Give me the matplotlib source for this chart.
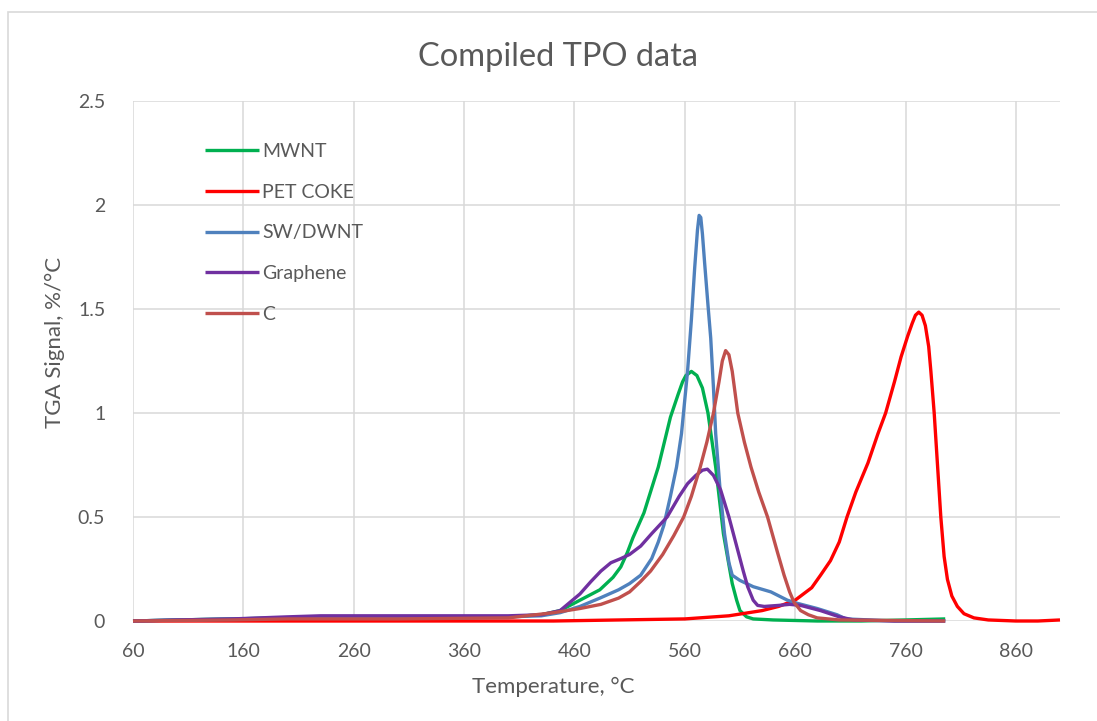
import matplotlib
matplotlib.use("Agg")
import matplotlib.pyplot as plt
from matplotlib.patches import Rectangle

# temperatures (deg C) and TGA signal (%/deg C)
mwnt_t = [60, 100, 150, 200, 250, 300, 350, 400, 430, 447, 465, 483, 495, 502, 508,
          513, 523, 536, 547, 554, 558, 561, 566, 571, 576, 581, 588, 595, 603, 607,
          610, 616, 622, 640, 680, 720, 760, 796]
mwnt_y = [0.0, 0.005, 0.01, 0.015, 0.015, 0.015, 0.015, 0.02, 0.03, 0.05, 0.10, 0.15,
          0.21, 0.26, 0.33, 0.40, 0.52, 0.74, 0.98, 1.09, 1.15, 1.18, 1.20, 1.18, 1.12,
          1.00, 0.74, 0.42, 0.18, 0.10, 0.05, 0.02, 0.01, 0.005, 0.0, 0.0, 0.005, 0.01]

coke_t = [60, 200, 350, 441, 500, 560, 600, 630, 645, 660, 675, 683, 692, 700, 707,
          715, 726, 735, 742, 750, 756, 762, 766, 769, 772, 775, 778, 781, 783, 786,
          789, 792, 795, 798, 802, 807, 813, 822, 835, 860, 880, 900]
coke_y = [0.0, 0.0, 0.0, 0.0, 0.005, 0.01, 0.025, 0.05, 0.07, 0.10, 0.16, 0.22, 0.29,
          0.38, 0.50, 0.62, 0.76, 0.90, 1.00, 1.15, 1.27, 1.37, 1.43, 1.47, 1.485, 1.47,
          1.42, 1.32, 1.20, 1.00, 0.75, 0.50, 0.31, 0.20, 0.12, 0.07, 0.035, 0.015,
          0.005, 0.0, 0.0, 0.005]

swnt_t = [60, 100, 150, 200, 250, 300, 350, 400, 430, 447, 465, 483, 500, 510, 520,
          530, 536, 541, 547, 552.5, 557, 562.5, 566, 569, 571.5, 573, 574.5, 576,
          578, 581, 583.5, 586, 588, 592, 596, 600, 603, 610, 622, 638, 653, 662, 680,
          698, 706, 750, 796]
swnt_y = [0.0, 0.005, 0.01, 0.015, 0.015, 0.015, 0.015, 0.02, 0.025, 0.04, 0.07, 0.11,
          0.15, 0.18, 0.22, 0.30, 0.38, 0.46, 0.60, 0.74, 0.90, 1.20, 1.45, 1.70, 1.88,
          1.95, 1.94, 1.86, 1.72, 1.52, 1.36, 1.12, 0.90, 0.63, 0.42, 0.28, 0.22, 0.195,
          0.165, 0.14, 0.10, 0.085, 0.06, 0.03, 0.01, 0.0, 0.0]

graph_t = [60, 100, 150, 200, 230, 300, 350, 400, 430, 447, 465, 475, 484, 493, 502,
           510, 520, 530, 544, 555, 562.5, 570, 576, 580.5, 586, 592.5, 600, 608, 613,
           617, 622, 626, 632, 645, 655, 665, 683, 700, 713, 750, 796]
graph_y = [0.0, 0.005, 0.01, 0.02, 0.025, 0.025, 0.025, 0.025, 0.03, 0.05, 0.13, 0.19,
           0.24, 0.28, 0.30, 0.32, 0.36, 0.42, 0.50, 0.60, 0.66, 0.70, 0.725, 0.73,
           0.70, 0.63, 0.50, 0.34, 0.24, 0.165, 0.10, 0.075, 0.07, 0.075, 0.08, 0.075,
           0.05, 0.02, 0.005, 0.0, 0.0]

c_t = [60, 150, 200, 300, 400, 441, 465, 484, 500, 510, 520, 529, 540, 550, 559, 566,
       574, 580, 586, 591, 594, 597, 600, 603, 608, 614, 620, 627, 635, 644, 650, 655,
       659, 665, 672, 680, 700, 796]
c_y = [0.0, 0.005, 0.01, 0.01, 0.015, 0.04, 0.06, 0.08, 0.11, 0.14, 0.19, 0.24, 0.32,
       0.41, 0.50, 0.60, 0.74, 0.86, 1.00, 1.15, 1.25, 1.30, 1.28, 1.20, 1.00, 0.86,
       0.74, 0.62, 0.50, 0.33, 0.22, 0.14, 0.09, 0.05, 0.03, 0.015, 0.005, 0.0]

series = [
    ("MWNT", mwnt_t, mwnt_y, "#00B050"),
    ("PET COKE", coke_t, coke_y, "#FF0000"),
    ("SW/DWNT", swnt_t, swnt_y, "#4F81BD"),
    ("Graphene", graph_t, graph_y, "#7030A0"),
    ("C", c_t, c_y, "#C0504D"),
]

x_ticks = [60, 160, 260, 360, 460, 560, 660, 760, 860]
y_ticks = [0, 0.5, 1, 1.5, 2, 2.5]
y_tick_labels = ["0", "0.5", "1", "1.5", "2", "2.5"]

plt.rcParams['font.family'] = ['Lato', 'DejaVu Sans']
text_grey = "#595959"
grid_grey = "#d9d9d9"

W, H = 1097, 721
fig = plt.figure(figsize=(W / 100, H / 100), dpi=100)
ax = fig.add_axes([133 / W, 1 - 621 / H, (1060 - 133) / W, (621 - 101) / H])

for name, t, y, col in series:
    ax.plot(t, y, color=col, lw=2.4, label=name, clip_on=False,
            solid_capstyle='butt', solid_joinstyle='round')

ax.set_xlim(60, 900)
ax.set_ylim(0, 2.5)
ax.set_xticks(x_ticks)
ax.set_yticks(y_ticks)
ax.set_yticklabels(y_tick_labels)
ax.grid(True, color=grid_grey, lw=1.1)
ax.set_axisbelow(True)
for s in ax.spines.values():
    s.set_visible(False)
ax.tick_params(length=0, labelsize=14, labelcolor=text_grey)
ax.tick_params(axis='x', pad=16)
ax.tick_params(axis='y', pad=20)

fig.text(553 / W, 1 - 687 / H, "Temperature, \u00b0C", ha='center', va='center',
         fontsize=16, color=text_grey)
fig.text(55 / W, 1 - 342 / H, "TGA Signal, %/\u00b0C", ha='center', va='center',
         rotation=90, fontsize=16, color=text_grey)
fig.text(558 / W, 1 - 57 / H, "Compiled TPO data", ha='center', va='center',
         fontsize=23.5, color=text_grey)

ax.legend(loc='upper left', bbox_to_anchor=(205 / W, 1 - 143 / H),
          bbox_transform=fig.transFigure, frameon=False, fontsize=14,
          handlelength=2.8, handletextpad=0.15, labelspacing=1.22,
          borderpad=0, borderaxespad=0, labelcolor=text_grey)

# light chart border like the spreadsheet frame
fig.patches.append(Rectangle((8 / W, -0.05), 1.1, 1 - 12 / H + 0.05,
                             transform=fig.transFigure, fill=False,
                             edgecolor=grid_grey, lw=1.2))

fig.savefig("out.png", dpi=100)
